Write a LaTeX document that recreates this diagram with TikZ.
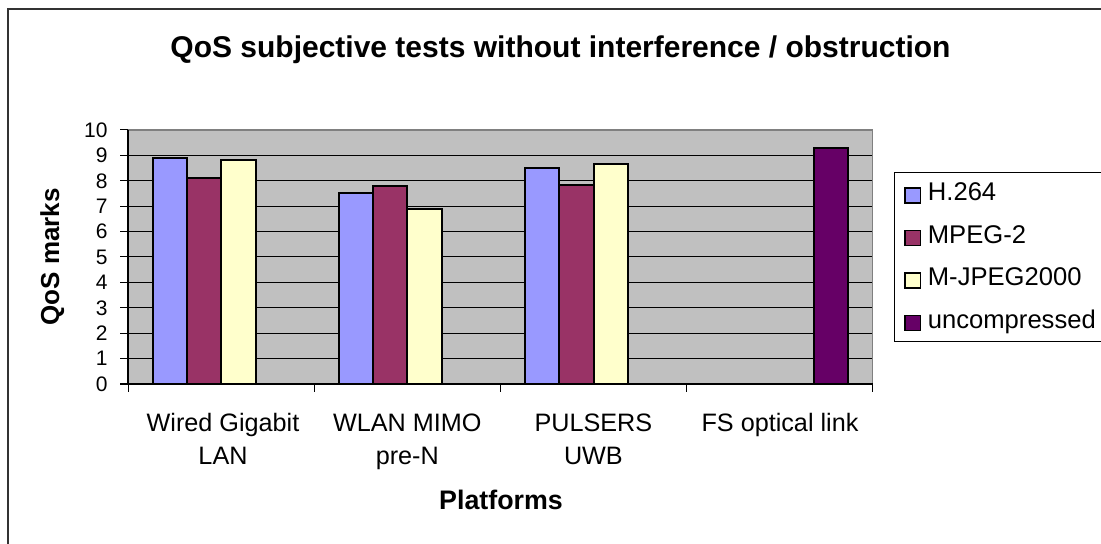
\documentclass[tikz,border=0pt]{standalone}
\usepackage{fontspec}
\setmainfont{Liberation Sans}
\definecolor{sBlue}{HTML}{9999FF}
\definecolor{sMaroon}{HTML}{993366}
\definecolor{sYellow}{HTML}{FFFFCC}
\definecolor{sPurple}{HTML}{660066}
\definecolor{plotgray}{HTML}{C0C0C0}
\definecolor{frame}{HTML}{333333}
\begin{document}
\begin{tikzpicture}[x=0.5pt,y=-0.5pt,
  bar/.style={draw=black,line width=1pt},
  gridline/.style={draw=black,line width=0.5pt},
  ticklab/.style={font=\fontsize{10.5}{12}\selectfont,anchor=base east,inner sep=0pt},
  catlab/.style={font=\fontsize{12.6}{16.5}\selectfont,align=center,anchor=base,inner sep=0pt},
  leglab/.style={font=\fontsize{12.8}{14}\selectfont,anchor=base west,inner sep=0pt},
  swatch/.style={draw=black,line width=0.75pt}]
\useasboundingbox (0,0) rectangle (1101,544);
\fill[white] (0,0) rectangle (1101,544);
% outer frame
\draw[frame,line width=1pt] (7.5,600) |- (1150,9.5);
% title
\node[font=\fontsize{15}{17}\selectfont\bfseries,anchor=base,inner sep=0pt] (title) at (560.5,58) {QoS subjective tests without interference / obstruction};
% plot area
\fill[plotgray] (128,130) rectangle (872.7,384);
\foreach \v in {1,...,9} \draw[gridline] (120,{384-25.4*\v}) -- (872.7,{384-25.4*\v});
\draw[draw=gray,line width=0.75pt] (128,130) -- (872.7,130) -- (872.7,384);
\draw[black,line width=0.5pt] (120,130) -- (128,130);
\draw[black,line width=0.75pt] (120,384) -- (872.7,384);
\draw[black,line width=0.75pt] (128,130) -- (128,384);
\foreach \i in {0,...,4} \draw[black,line width=0.5pt] ({128+186.17*\i},384) -- ++(0,8);
% tick labels
\foreach \v in {0,...,10} \node[ticklab] (t\v) at (108,{384-25.4*\v+7.4}) {\v};
% bars
\foreach \g/\s/\v/\c in {0/0/8.9/sBlue,0/1/8.1/sMaroon,0/2/8.8/sYellow,
                        1/0/7.5/sBlue,1/1/7.8/sMaroon,1/2/6.9/sYellow,
                        2/0/8.5/sBlue,2/1/7.85/sMaroon,2/2/8.65/sYellow,
                        3/3/9.28/sPurple}
  \draw[bar,fill=\c] ({128+186.17*\g+24.6+34.3*\s},384) rectangle ++(34.3,{-25.4*\v});
% category labels (base = last line)
\node[catlab] (c1) at (223,464) {Wired Gigabit\\LAN};
\node[catlab] (c2) at (407.3,464) {WLAN MIMO\\pre-N};
\node[catlab] (c3) at (593.4,464) {PULSERS\\UWB};
\node[catlab] (c4) at (780,431) {FS optical link};
% axis titles
\node[font=\fontsize{13.4}{15}\selectfont\bfseries,anchor=base,inner sep=0pt] (xt) at (501,509) {Platforms};
\node[font=\fontsize{13}{15}\selectfont\bfseries,anchor=base,inner sep=0pt,rotate=90] (yt) at (59,257) {QoS marks};
% legend
\draw[black,line width=0.75pt] (894.3,172.5) rectangle (1150,341.7);
\foreach \k/\c/\t in {0/sBlue/H.264,1/sMaroon/MPEG-2,2/sYellow/M-JPEG2000,3/sPurple/uncompressed}{
  \draw[swatch,fill=\c] (905,{200.7+42.5*\k-12.5}) rectangle (920.5,{200.7+42.5*\k+2.5});
  \node[leglab] (l\k) at (927.5,{200.7+42.5*\k}) {\t};
}
\end{tikzpicture}
\end{document}
